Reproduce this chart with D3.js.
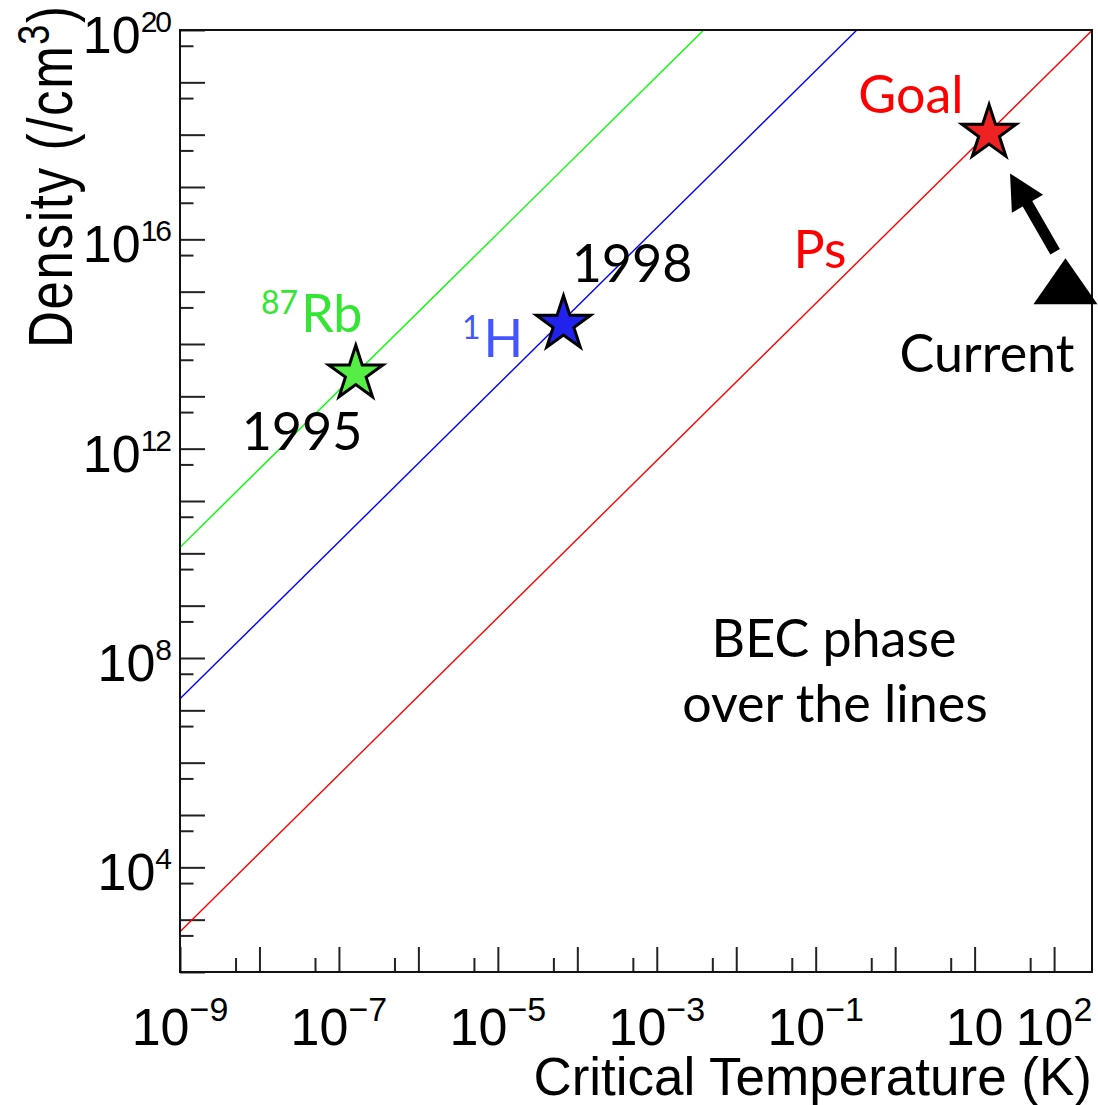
<!DOCTYPE html>
<html>
<head>
<meta charset="utf-8">
<script src="https://cdn.jsdelivr.net/npm/d3@7"></script>
<style>
  body { margin: 0; background: #fff; }
  svg { display: block; }
</style>
</head>
<body>
<div id="chart"></div>
<script>
// axis ranges and labelled ticks
const xDomain = [1e-9, 3e2];
const yDomain = [1e2, 1e20];
const xLabelTicks = [1e-9, 1e-7, 1e-5, 1e-3, 1e-1, 10, 100];
const yLabelTicks = [1e4, 1e8, 1e12, 1e16, 1e20];

// BEC threshold lines, end points as [T (K), n (/cm3)]
const psLine = [[1e-9, 5.9e2], [3e2, 9.8e19]];
const hLine = [[1e-9, 1.66e7], [0.33, 1e20]];
const rbLine = [[1e-9, 1.3e10], [3.9e-3, 1e20]];
const lineSeries = [psLine, hLine, rbLine];
const lineColors = ["#ff0000", "#0000ff", "#00ff00"];

// stars: 87Rb 1995, 1H 1998, Ps goal
const starT = [1.63e-7, 6.7e-5, 15.2];
const starN = [2.7e13, 2.4e14, 1.07e18];
const starFill = ["#55ee44", "#2222ee", "#ee2222"];

// current Ps point and the arrow towards the goal
const currentPoint = [139, 1.58e15];
const arrowFrom = [103, 5.8e15];
const arrowTo = [27.9, 1.82e17];

// text boxes laid on top of the plot (pixel layout)
const notes = [
  { text: "Goal", x: 911, y: 113, color: "#ff0000" },
  { text: "Ps", x: 820, y: 268, color: "#ff0000" },
  { text: "1998", x: 632, y: 282, color: "#000" },
  { text: "Current", x: 987, y: 372, color: "#000" },
  { text: "BEC phase", x: 834, y: 657, color: "#000" },
  { text: "over the lines", x: 835, y: 722, color: "#000" },
  { text: "1995", x: 302, y: 450, color: "#000" }
];
const isotopes = [
  { sup: "87", main: "Rb", x: 261, y: 332, color: "#33e633" },
  { sup: "1", main: "H", x: 462, y: 357, color: "#4455ff" }
];

const W = 1098, H = 1105;
const plot = { left: 180, right: 1092, top: 30, bottom: 972 };
const axisFont = "'Liberation Sans', Arial, Helvetica, sans-serif";
const noteFont = "Lato, 'Open Sans', sans-serif";

const x = d3.scaleLog().domain(xDomain).range([plot.left, plot.right]);
const y = d3.scaleLog().domain(yDomain).range([plot.bottom, plot.top]);

const svg = d3.select("#chart").append("svg")
    .attr("width", W)
    .attr("height", H);

svg.append("defs").append("clipPath").attr("id", "clip")
  .append("rect")
    .attr("x", plot.left).attr("y", plot.top)
    .attr("width", plot.right - plot.left)
    .attr("height", plot.bottom - plot.top);

// ticks: decades long, 5x10^k short, pointing into the frame
const decades = (lo, hi) => d3.range(lo, hi + 1).map(e => Math.pow(10, e));
const xMajor = decades(-9, 2), xMinor = decades(-9, 1).map(v => 5 * v);
const yMajor = decades(2, 20), yMinor = decades(2, 19).map(v => 5 * v);

function tickAxis(axis, values, size) {
  return axis.tickValues(values).tickSize(-size).tickFormat("");
}

const axes = svg.append("g").attr("class", "axes");
[[xMajor, 25], [xMinor, 14]].forEach(([vals, len]) => {
  axes.append("g")
      .attr("transform", `translate(0,${plot.bottom})`)
      .call(tickAxis(d3.axisBottom(x), vals, len));
});
[[yMajor, 25], [yMinor, 13.5]].forEach(([vals, len]) => {
  axes.append("g")
      .attr("transform", `translate(${plot.left},0)`)
      .call(tickAxis(d3.axisLeft(y), vals, len));
});
axes.selectAll(".domain").remove();
axes.selectAll(".tick line").attr("stroke", "#222").attr("stroke-width", 2);

// threshold lines
const lineGen = d3.line().x(d => x(d[0])).y(d => y(d[1]));
svg.append("g").attr("clip-path", "url(#clip)")
  .selectAll("path")
  .data(lineSeries)
  .enter().append("path")
    .attr("d", lineGen)
    .attr("fill", "none")
    .attr("stroke", (d, i) => lineColors[i])
    .attr("stroke-width", 1.4);

// frame
svg.append("rect")
    .attr("x", plot.left).attr("y", plot.top)
    .attr("width", plot.right - plot.left)
    .attr("height", plot.bottom - plot.top)
    .attr("fill", "none")
    .attr("stroke", "#111")
    .attr("stroke-width", 2);

// tick labels with superscript exponents
function expOf(v) { return Math.round(Math.log10(v)); }

const xLabels = svg.append("g")
    .attr("font-family", axisFont)
    .attr("text-anchor", "middle")
    .selectAll("text")
    .data(xLabelTicks)
    .enter().append("text")
    .attr("x", d => x(d))
    .attr("y", 1045)
    .attr("font-size", 52);
xLabels.append("tspan").text("10");
xLabels.filter(d => expOf(d) !== 1).append("tspan")
    .attr("font-size", 34)
    .attr("dy", -24)
    .text(d => String(expOf(d)).replace("-", "\u2212"));

const yLabels = svg.append("g")
    .attr("font-family", axisFont)
    .attr("text-anchor", "end")
    .selectAll("text")
    .data(yLabelTicks)
    .enter().append("text")
    .attr("x", 170)
    .attr("y", d => y(d) + 23)
    .attr("font-size", 52);
yLabels.append("tspan").text("10");
yLabels.append("tspan")
    .attr("font-size", 30)
    .attr("dy", -21)
    .attr("letter-spacing", -2)
    .text(d => String(expOf(d)));

// axis titles
svg.append("text")
    .attr("x", plot.right)
    .attr("y", 1095)
    .attr("text-anchor", "end")
    .attr("font-family", axisFont)
    .attr("font-size", 53)
    .text("Critical Temperature (K)");

const yTitle = svg.append("text")
    .attr("transform", "translate(72,348) rotate(-90) scale(1,1.23)")
    .attr("text-anchor", "start")
    .attr("font-family", axisFont)
    .attr("font-size", 51)
    .attr("textLength", 342)
    .attr("lengthAdjust", "spacing");
yTitle.append("tspan").text("Density (/cm");
yTitle.append("tspan").attr("font-size", 36).attr("dy", -19).text("3");
yTitle.append("tspan").attr("dy", 19).text(")");

// arrow from the current point towards the goal
const p0 = [x(arrowFrom[0]), y(arrowFrom[1])];
const p1 = [x(arrowTo[0]), y(arrowTo[1])];
const len = Math.hypot(p1[0] - p0[0], p1[1] - p0[1]);
const u = [(p1[0] - p0[0]) / len, (p1[1] - p0[1]) / len];
const nrm = [-u[1], u[0]];
const headLen = 35, headHalf = 18, shaftHalf = 5.5;
const base = [p1[0] - u[0] * headLen, p1[1] - u[1] * headLen];
const off = (p, k) => [p[0] + nrm[0] * k, p[1] + nrm[1] * k];
svg.append("path")
    .attr("d", d3.line()([
      off(p0, shaftHalf), off(base, shaftHalf), off(base, headHalf), p1,
      off(base, -headHalf), off(base, -shaftHalf), off(p0, -shaftHalf)
    ]) + "Z")
    .attr("fill", "#000");

// current triangle marker
const triW = 64, triH = 46;
svg.append("path")
    .attr("transform", `translate(${x(currentPoint[0])},${y(currentPoint[1])})`)
    .attr("d", `M0,${-triH / 2}L${triW / 2},${triH / 2}L${-triW / 2},${triH / 2}Z`)
    .attr("fill", "#000");

// star markers
const star = d3.symbol(d3.symbolStar, 912);
svg.append("g")
  .selectAll("path")
  .data(starT)
  .enter().append("path")
    .attr("transform", (d, i) => `translate(${x(d)},${y(starN[i])})`)
    .attr("d", star)
    .attr("fill", (d, i) => starFill[i])
    .attr("stroke", "#000")
    .attr("stroke-width", 3)
    .attr("stroke-linejoin", "miter");

// text boxes
svg.append("g")
    .attr("font-family", noteFont)
    .attr("font-size", 52)
    .attr("text-anchor", "middle")
  .selectAll("text")
  .data(notes)
  .enter().append("text")
    .attr("x", d => d.x)
    .attr("y", d => d.y)
    .attr("fill", d => d.color)
    .text(d => d.text);

const iso = svg.append("g")
    .attr("font-family", noteFont)
    .attr("font-size", 52)
  .selectAll("text")
  .data(isotopes)
  .enter().append("text")
    .attr("x", d => d.x)
    .attr("y", d => d.y)
    .attr("fill", d => d.color);
iso.append("tspan").attr("font-size", 32).attr("dy", -18).text(d => d.sup);
iso.append("tspan").attr("dy", 18).attr("dx", 3).text(d => d.main);
</script>
</body>
</html>
